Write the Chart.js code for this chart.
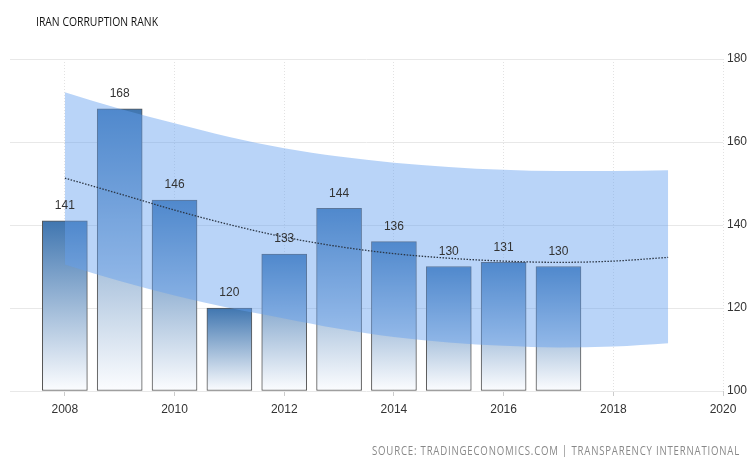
<!DOCTYPE html>
<html>
<head>
<meta charset="utf-8">
<script src="https://cdn.jsdelivr.net/npm/chart.js@4/dist/chart.umd.min.js"></script>
<style>
  html, body { margin: 0; padding: 0; background: #fff; }
  #wrap { width: 747px; height: 457px; position: relative; }
</style>
</head>
<body>
<div id="wrap"><canvas id="rankChart"></canvas></div>
<script>
const title = "IRAN CORRUPTION RANK";
const source = "SOURCE: TRADINGECONOMICS.COM | TRANSPARENCY INTERNATIONAL";

const years = [2008, 2009, 2010, 2011, 2012, 2013, 2014, 2015, 2016, 2017];
const rank = [141, 168, 146, 120, 133, 144, 136, 130, 131, 130];

const trendYears = [2008, 2009, 2010, 2011, 2012, 2013, 2014, 2015, 2016, 2017, 2018, 2019];
const trend = [151.3, 147.5, 143.6, 140.1, 137.1, 134.8, 133.1, 132.0, 131.3, 131.0, 131.3, 132.2];
const bandUpper = [172.0, 168.0, 164.5, 161.2, 158.5, 156.5, 155.0, 154.0, 153.3, 153.0, 153.0, 153.2];
const bandLower = [130.5, 126.5, 123.0, 120.0, 117.5, 115.0, 113.0, 111.7, 110.9, 110.5, 110.7, 111.5];

const xTicks = [2008, 2010, 2012, 2014, 2016, 2018, 2020];
const yTicks = [100, 120, 140, 160, 180];
const xMin = 2007, xMax = 2020;
const yMin = 100, yMax = 180;

const barTop = "rgb(64,118,176)";
const barBottom = "rgb(252,253,255)";

function pts(xs, ys) {
    return xs.map((x, i) => ({ x: x, y: ys[i] }));
}

function barFill(ctx) {
    const chart = ctx.chart;
    const y = chart.scales.y;
    if (ctx.type !== "data" || !y || !chart.chartArea) return barTop;
    const top = y.getPixelForValue(ctx.raw.y);
    const bottom = y.getPixelForValue(yMin);
    if (!isFinite(top) || !isFinite(bottom) || top === bottom) return barTop;
    const g = chart.ctx.createLinearGradient(0, top, 0, bottom);
    g.addColorStop(0, barTop);
    g.addColorStop(1, barBottom);
    return g;
}

const textPlugin = {
    id: "texts",
    afterDraw(chart) {
        const c = chart.ctx;
        c.save();
        // values above bars
        const meta = chart.getDatasetMeta(0);
        c.fillStyle = "#333";
        c.font = "12px 'Liberation Sans', Arial, sans-serif";
        c.textAlign = "center";
        c.textBaseline = "middle";
        meta.data.forEach((el, i) => {
            c.fillText(String(rank[i]), el.x, el.y - 15);
        });
        // title
        c.textAlign = "left";
        c.font = "12.5px 'Open Sans', sans-serif";
        c.fillStyle = "#111";
        c.fillText(title, 36, 22, 122);
        // source
        c.textAlign = "right";
        c.font = "12px 'Open Sans', sans-serif";
        c.fillStyle = "#888";
        c.letterSpacing = "1px";
        c.fillText(source, 740, 452, 368);
        c.restore();
    }
};

new Chart(document.getElementById("rankChart"), {
    type: "bar",
    data: {
        datasets: [
            {
                type: "bar",
                label: "Rank",
                data: pts(years, rank),
                base: yMin,
                backgroundColor: barFill,
                borderColor: "rgb(85,85,85)",
                borderWidth: 1,
                borderSkipped: false,
                barThickness: 45,
                order: 3
            },
            {
                type: "line",
                label: "Upper",
                data: pts(trendYears, bandUpper),
                borderWidth: 0,
                pointRadius: 0,
                cubicInterpolationMode: "monotone",
                backgroundColor: "rgba(100,160,240,0.45)",
                fill: "+1",
                order: 2
            },
            {
                type: "line",
                label: "Lower",
                data: pts(trendYears, bandLower),
                borderWidth: 0,
                pointRadius: 0,
                cubicInterpolationMode: "monotone",
                fill: false,
                order: 2
            },
            {
                type: "line",
                label: "Trend",
                data: pts(trendYears, trend),
                borderColor: "#2b3645",
                borderWidth: 1.3,
                borderDash: [1.5, 1.5],
                pointRadius: 0,
                cubicInterpolationMode: "monotone",
                fill: false,
                order: 1
            }
        ]
    },
    options: {
        responsive: true,
        maintainAspectRatio: false,
        animation: false,
        layout: { padding: { left: 10, top: 59, right: 0, bottom: 36 } },
        plugins: {
            legend: { display: false },
            tooltip: { enabled: false }
        },
        scales: {
            x: {
                type: "linear",
                min: xMin,
                max: xMax,
                offset: false,
                afterBuildTicks: s => { s.ticks = xTicks.map(v => ({ value: v })); },
                afterFit: s => { s.height = 30; },
                ticks: {
                    color: "#333",
                    padding: 6,
                    maxRotation: 0,
                    font: { family: "'Liberation Sans', Arial, sans-serif", size: 12 },
                    callback: v => String(v)
                },
                grid: {
                    offset: false,
                    color: "#e2e2e2",
                    tickColor: "#cccccc",
                    tickLength: 5,
                    tickBorderDash: []
                },
                border: { display: false, dash: [1, 2] }
            },
            y: {
                position: "right",
                min: yMin,
                max: yMax,
                afterBuildTicks: s => { s.ticks = yTicks.map(v => ({ value: v })); },
                afterFit: s => { s.width = 24; },
                ticks: {
                    color: "#333",
                    padding: 4,
                    font: { family: "'Liberation Sans', Arial, sans-serif", size: 12 }
                },
                grid: { color: "#e8e8e8", drawTicks: false },
                border: { display: false }
            }
        }
    },
    plugins: [textPlugin]
});
</script>
</body>
</html>
